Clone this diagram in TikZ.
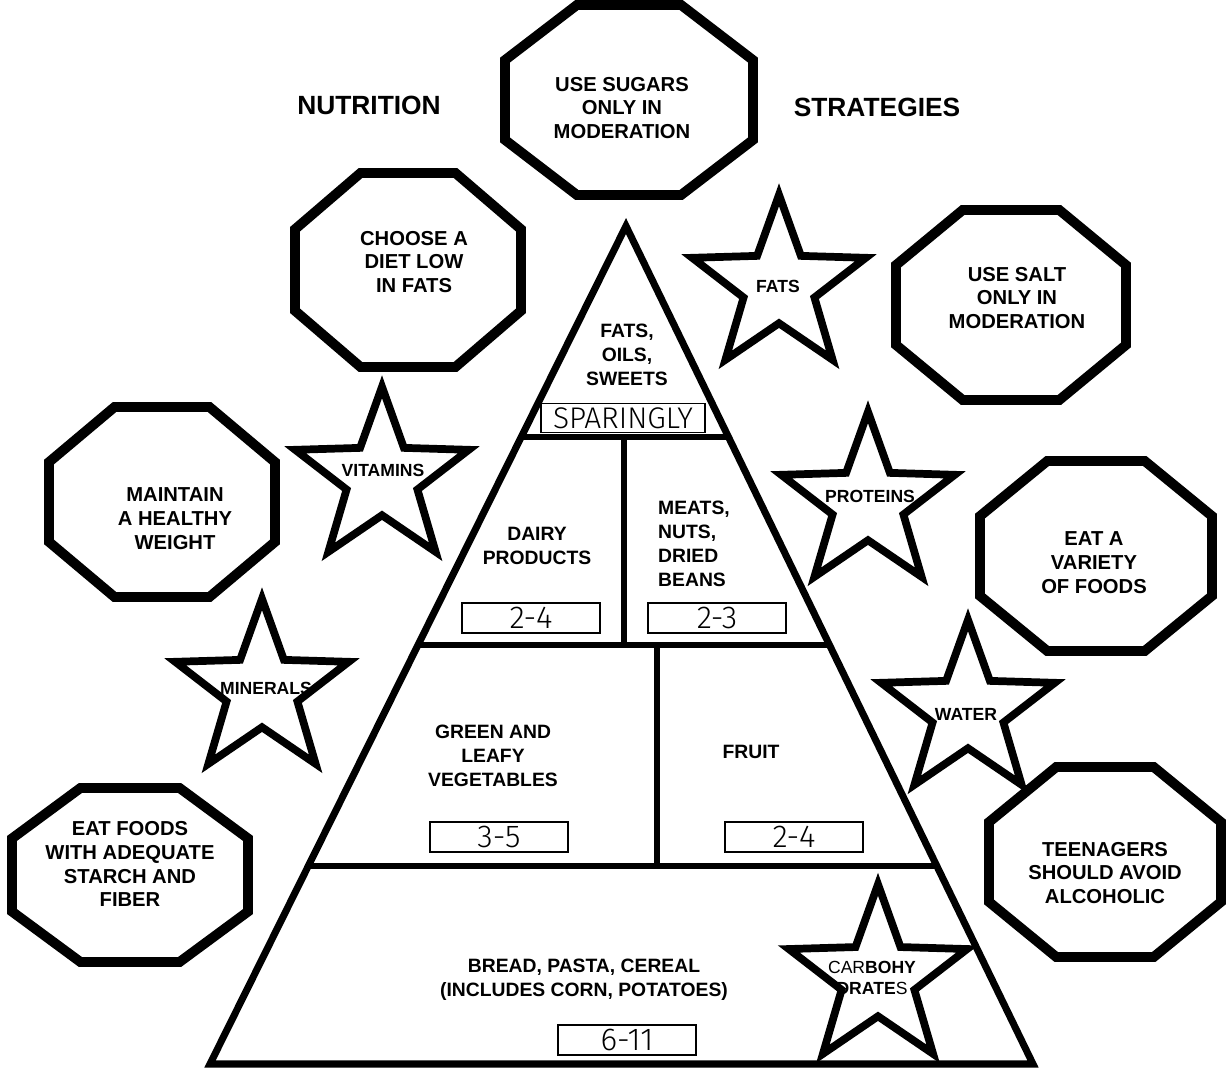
\documentclass[tikz,border=0pt]{standalone}
\usepackage{fontspec}
\setmainfont{Liberation Sans}
\newfontfamily\duenn{Fira Sans Light}
\usetikzlibrary{shapes.geometric,calc}

% Achteck: Mitte x, Mitte y, halbe Breite, halbe Hoehe
\newcommand{\achteck}[4]{%
  \draw[achtrand] ({#1-0.42*#3},{#2-#4}) -- ({#1+0.42*#3},{#2-#4})
    -- ({#1+#3},{#2-0.42*#4}) -- ({#1+#3},{#2+0.42*#4})
    -- ({#1+0.42*#3},{#2+#4}) -- ({#1-0.42*#3},{#2+#4})
    -- ({#1-#3},{#2+0.42*#4}) -- ({#1-#3},{#2-0.42*#4}) -- cycle;}

\tikzset{
  achtrand/.style={line width=5.6pt,line join=miter},
  achttext/.style={font=\bfseries\fontsize{11.5}{13.6}\selectfont,align=center},
  titel/.style={font=\bfseries\fontsize{15}{18}\selectfont},
  stern/.style={star,star points=5,star point ratio=2.45,draw,line width=4.4pt,inner sep=0pt,minimum size=3.65cm},
  sterntext/.style={font=\bfseries\fontsize{10}{12}\selectfont,align=center},
  pyrtext/.style={font=\bfseries\fontsize{11}{13.6}\selectfont,align=center},
  portion/.style={draw,line width=1pt,inner sep=0pt,minimum width=2.76cm,minimum height=0.6cm,font=\duenn\fontsize{18}{18}\selectfont}
}

\begin{document}
\begin{tikzpicture}[x=0.02cm,y=-0.02cm]
	\useasboundingbox (0,0) rectangle (1228,1078);
	% Ueberschrift
	\node[titel] (titelA) at (369,105) {NUTRITION};
	\node[titel] (titelB) at (877,107) {STRATEGIES};
	% Achtecke
	\achteck{629}{100}{124}{95}
	\achteck{408}{270}{113}{97}
	\achteck{1011}{305}{115}{95}
	\achteck{162}{502}{113}{95}
	\achteck{1096}{556}{116}{95}
	\achteck{130}{875}{118}{87}
	\achteck{1105}{862}{116}{95}
	\node[achttext] (tZucker) at (622,108) {USE SUGARS\\ONLY IN\\MODERATION};
	\node[achttext] (tFett) at (414,262) {CHOOSE A\\DIET LOW\\IN FATS};
	\node[achttext] (tSalz) at (1017,298) {USE SALT\\ONLY IN\\MODERATION};
	\node[achttext] (tGewicht) at (175,519) {MAINTAIN\\A HEALTHY\\WEIGHT};
	\node[achttext] (tVielfalt) at (1094,563) {EAT A\\VARIETY\\OF FOODS};
	\node[achttext] (tStaerke) at (130,864) {EAT FOODS\\WITH ADEQUATE\\STARCH AND\\FIBER};
	\node[achttext] (tAlkohol) at (1105,873) {TEENAGERS\\SHOULD AVOID\\ALCOHOLIC};
	% Pyramide
	\coordinate (spitze) at (626,226);
	\coordinate (links) at (210,1064);
	\coordinate (rechts) at (1033,1064);
	\draw[line width=3.4pt] ($(spitze)!0.2518!(links)$) -- ($(spitze)!0.2518!(rechts)$);
	\draw[line width=3.4pt] ($(spitze)!0.5!(links)$) -- ($(spitze)!0.5!(rechts)$);
	\draw[line width=3.4pt] ($(spitze)!0.7637!(links)$) -- ($(spitze)!0.7637!(rechts)$);
	\draw[line width=3.4pt] (624,437) -- (624,645);
	\draw[line width=3.4pt] (657,645) -- (657,866);
	\draw[line width=4pt,line join=miter] (spitze) -- (links) -- (rechts) -- cycle;
	% Texte in der Pyramide
	\node[pyrtext] (pSuess) at (627,355) {FATS,\\OILS,\\SWEETS};
	\node[pyrtext] (pMilch) at (537,546) {DAIRY\\PRODUCTS};
	\node[pyrtext,align=left,anchor=west] (pFleisch) at (652,544) {MEATS,\\NUTS,\\DRIED\\BEANS};
	\node[pyrtext] (pGemuese) at (493,756) {GREEN AND\\LEAFY\\VEGETABLES};
	\node[pyrtext] (pObst) at (751,752) {FRUIT};
	\node[pyrtext] (pBrot) at (584,980) {BREAD, PASTA, CEREAL\\(INCLUDES CORN, POTATOES)};
	% Portionen
	\node[portion,minimum width=3.28cm,minimum height=0.58cm,font=\duenn\fontsize{17}{17}\selectfont] (bSpar) at (623,418) {SPARINGLY};
	\node[portion] (bMilch) at (531,618) {2-4};
	\node[portion] (bFleisch) at (717,618) {2-3};
	\node[portion] (bGemuese) at (499,837) {3-5};
	\node[portion] (bObst) at (794,837) {2-4};
	\node[portion] (bBrot) at (627,1040) {6-11};
	% Sterne
	\node[stern] (sFett) at (779,286) {};
	\node[stern] (sVit) at (382,478) {};
	\node[stern] (sProt) at (868,503) {};
	\node[stern] (sMin) at (262,690) {};
	\node[stern] (sWasser) at (968,711) {};
	\node[stern,minimum size=3.75cm] (sKohle) at (878,978) {};
	\node[sterntext] (lFett) at (778,286) {FATS};
	\node[sterntext] (lVit) at (383,470) {VITAMINS};
	\node[sterntext] (lProt) at (870,496) {PROTEINS};
	\node[sterntext] (lMin) at (266,688) {MINERALS};
	\node[sterntext] (lWasser) at (966,714) {WATER};
	\node[sterntext] (lKohle) at (872,978) {{\mdseries CAR}BOHY\\DRATE{\mdseries S}};
\end{tikzpicture}
\end{document}
